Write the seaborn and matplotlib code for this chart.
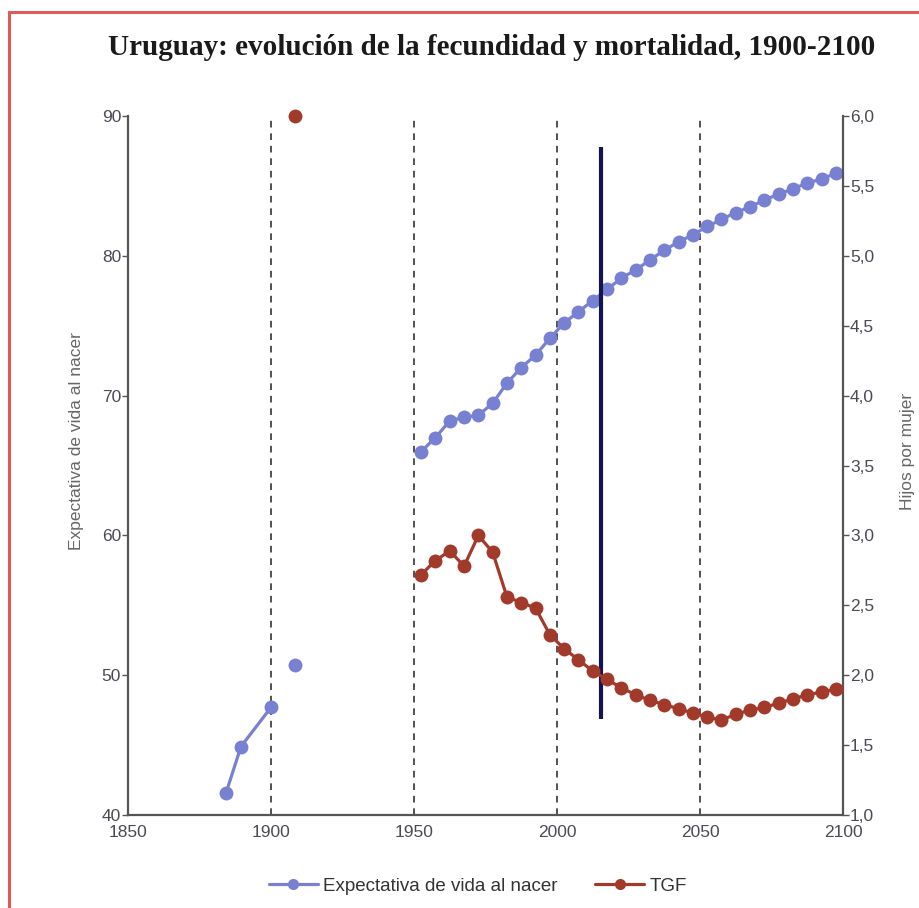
import numpy as np
import pandas as pd
import matplotlib.pyplot as plt
import matplotlib.ticker as mticker
from matplotlib.lines import Line2D
from matplotlib.patches import Rectangle
import seaborn as sns

sns.set_style("white")
plt.rcParams['font.family'] = ['Liberation Sans', 'DejaVu Sans']

# datos
anios_hist = [1884.3, 1889.5, 1900.0]
ev_hist = [41.6, 44.9, 47.7]
anio_1908 = 1908.3
ev_1908 = 50.7
tgf_1908 = 6.0

anios = [1952.5 + 5 * i for i in range(30)]
ev = [66.0, 67.0, 68.2, 68.45, 68.6, 69.45, 70.9, 72.0, 72.9, 74.1,
      75.2, 76.0, 76.8, 77.6, 78.4, 79.0, 79.7, 80.4, 81.0, 81.5,
      82.1, 82.6, 83.1, 83.5, 84.0, 84.4, 84.8, 85.2, 85.5, 85.9]
tgf = [2.72, 2.82, 2.89, 2.78, 3.00, 2.88, 2.56, 2.52, 2.48, 2.29,
       2.19, 2.11, 2.03, 1.97, 1.91, 1.86, 1.82, 1.79, 1.76, 1.73,
       1.70, 1.68, 1.72, 1.75, 1.77, 1.80, 1.83, 1.86, 1.88, 1.90]

lineas_ref = [1900, 1950, 2000, 2050]
anio_actual = 2015.5
rango_actual = [46.9, 87.8]

xticks = [1850, 1900, 1950, 2000, 2050, 2100]
yticks_izq = [40, 50, 60, 70, 80, 90]
yticks_der = [1.0, 1.5, 2.0, 2.5, 3.0, 3.5, 4.0, 4.5, 5.0, 5.5, 6.0]

azul = '#7880d2'
rojo = '#a23a2b'
gris = '#4a4a55'

df_ev = pd.concat([
    pd.DataFrame({'anio': anios_hist, 'valor': ev_hist, 'tramo': 0}),
    pd.DataFrame({'anio': [anio_1908], 'valor': [ev_1908], 'tramo': 1}),
    pd.DataFrame({'anio': anios, 'valor': ev, 'tramo': 2}),
], ignore_index=True)
df_tgf = pd.concat([
    pd.DataFrame({'anio': [anio_1908], 'valor': [tgf_1908], 'tramo': 1}),
    pd.DataFrame({'anio': anios, 'valor': tgf, 'tramo': 2}),
], ignore_index=True)

fig = plt.figure(figsize=(9.19, 9.08), dpi=100)
ax = fig.add_axes([0.1393, 0.1024, 0.778, 0.7698])
ax2 = ax.twinx()

for x in lineas_ref:
    ax.axvline(x, color='#333333', lw=1.2, ls=(0, (4, 3.5)), zorder=1)
ax.plot([anio_actual, anio_actual], rango_actual, color='#141450', lw=3, zorder=5,
        solid_capstyle='butt')

sns.lineplot(data=df_ev, x='anio', y='valor', units='tramo', estimator=None,
             color=azul, lw=2.3, marker='o', markersize=10, markeredgewidth=0,
             ax=ax, clip_on=False, zorder=4)
sns.lineplot(data=df_tgf, x='anio', y='valor', units='tramo', estimator=None,
             color=rojo, lw=2.3, marker='o', markersize=10, markeredgewidth=0,
             ax=ax2, clip_on=False, zorder=4)

ax.set_xlim(1850, 2100)
ax.set_ylim(40, 90)
ax2.set_ylim(1.0, 6.0)
ax.set_xticks(xticks)
ax.set_yticks(yticks_izq)
ax2.set_yticks(yticks_der)
ax2.yaxis.set_major_formatter(mticker.FuncFormatter(lambda v, p: f'{v:.1f}'.replace('.', ',')))

for a in (ax, ax2):
    a.tick_params(length=4, width=1, colors='#555555', labelcolor=gris, labelsize=12.5, pad=1)
    a.spines['top'].set_visible(False)
    for s in a.spines.values():
        s.set_color('#555555')
        s.set_linewidth(1.6)
ax.spines['right'].set_visible(False)
ax2.spines['left'].set_visible(False)
ax2.spines['bottom'].set_visible(False)
ax.tick_params(axis='x', length=0, pad=7)
ax.tick_params(axis='y', left=True)
ax2.tick_params(axis='y', right=True)

ax.set_xlabel('')
ax.set_ylabel('Expectativa de vida al nacer', fontsize=12.5, color='#666666')
ax.yaxis.set_label_coords(-0.062, 0.535)
ax2.set_ylabel('Hijos por mujer', fontsize=12.5, color='#666666', rotation=90)
ax2.yaxis.set_label_coords(1.08, 0.52)

fig.text(0.535, 0.948, 'Uruguay: evolución de la fecundidad y mortalidad, 1900-2100',
         ha='center', va='center', fontsize=21, fontweight='bold',
         family='Liberation Serif', color='#1a1a1a')

handles = [
    Line2D([], [], color=azul, lw=2.3, marker='o', markersize=8, markeredgewidth=0),
    Line2D([], [], color=rojo, lw=2.3, marker='o', markersize=8, markeredgewidth=0),
]
fig.legend(handles, ['Expectativa de vida al nacer', 'TGF'], loc='center',
           bbox_to_anchor=(0.52, 0.024), ncol=2, frameon=False, fontsize=13.5,
           handlelength=2.6, handletextpad=0.3, columnspacing=2.0, labelcolor='#333333')

fig.patches.append(Rectangle((9 / 919, -0.01), 1.0, 1 - 12 / 908 + 0.01,
                             transform=fig.transFigure, fill=False,
                             edgecolor='#e05a5a', lw=2.2))

fig.savefig('out.png', dpi=100)
